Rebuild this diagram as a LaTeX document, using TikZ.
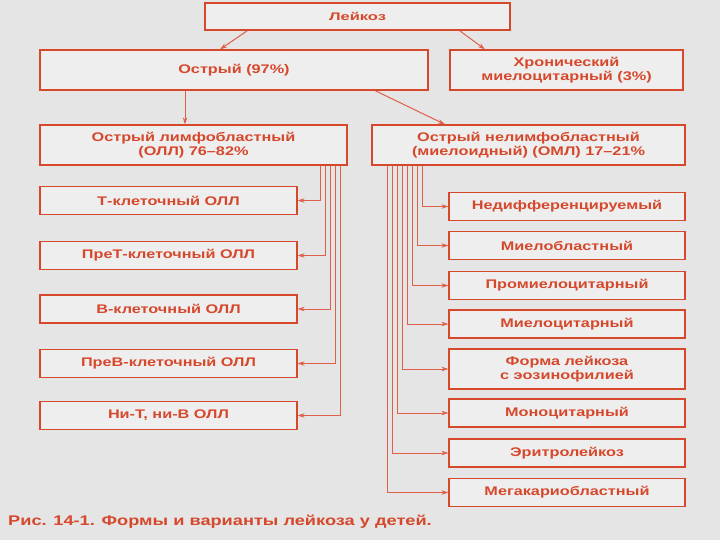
\documentclass[tikz,border=0pt]{standalone}
\usepackage{fontspec}
\setmainfont{Liberation Sans}
\newfontfamily\lkfont[Ligatures=TeX,FakeStretch=1.3]{Liberation Sans}
\newfontfamily\lkwide[Ligatures=TeX,FakeStretch=1.5]{Liberation Sans}
\usetikzlibrary{arrows.meta}

\definecolor{lkred}{RGB}{214,72,44}
\definecolor{lkline}{RGB}{222,96,72}
\definecolor{bggray}{RGB}{229,229,229}
\definecolor{boxgray}{RGB}{238,238,238}

\tikzset{
  box/.style={draw=lkred, line width=1.2pt, fill=boxgray, text=lkred,
    font=\lkfont\bfseries\fontsize{12.5}{14.5}\selectfont, align=center, inner sep=0pt},
  kid/.style={box, minimum height=28pt},
  link/.style={draw=lkline, line width=1pt, ->}
}

\begin{document}
\begin{tikzpicture}[x=1pt,y=-1pt,>={Stealth[length=7pt,width=4.5pt]}]
  \fill[bggray] (0,0) rectangle (720,540);
  \useasboundingbox (0,0) rectangle (720,540);

  % top levels
  \node[box, minimum width=305pt, minimum height=27pt,
    font=\lkwide\bfseries\fontsize{11}{13}\selectfont] (leuk) at (357.5,16.5) {Лейкоз};
  \node[box, minimum width=388pt, minimum height=40pt] (acute) at (234,70) {Острый (97\%)};
  \node[box, minimum width=233pt, minimum height=40pt] (chron) at (566.5,70) {Хронический\\миелоцитарный (3\%)};
  \node[box, minimum width=307pt, minimum height=40pt] (oll) at (193.5,145) {Острый лимфобластный\\(ОЛЛ) 76--82\%};
  \node[box, minimum width=313pt, minimum height=40pt] (oml) at (528.5,145) {Острый нелимфобластный\\(миелоидный) (ОМЛ) 17--21\%};

  % ALL variants
  \node[kid, minimum width=257pt] (tcell) at (168.5,200.5) {Т-клеточный ОЛЛ};
  \node[kid, minimum width=257pt] (pret) at (168.5,255.5) {ПреТ-клеточный ОЛЛ};
  \node[kid, minimum width=257pt] (bcell) at (168.5,309) {В-клеточный ОЛЛ};
  \node[kid, minimum width=257pt] (preb) at (168.5,363.5) {ПреВ-клеточный ОЛЛ};
  \node[kid, minimum width=257pt] (nontb) at (168.5,415.5) {Ни-Т, ни-В ОЛЛ};

  % AML variants
  \node[kid, minimum width=236pt] (undiff) at (567,206.5) {Недифференцируемый};
  \node[kid, minimum width=236pt] (myelob) at (567,245.5) {Миелобластный};
  \node[kid, minimum width=236pt] (promy) at (567,285.5) {Промиелоцитарный};
  \node[kid, minimum width=236pt] (myelo) at (567,324) {Миелоцитарный};
  \node[box, minimum width=236pt, minimum height=40pt] (eosin) at (567,369) {Форма лейкоза\\с эозинофилией};
  \node[kid, minimum width=236pt] (mono) at (567,413) {Моноцитарный};
  \node[kid, minimum width=236pt] (erythro) at (567,453) {Эритролейкоз};
  \node[kid, minimum width=236pt] (megak) at (567,492.5) {Мегакариобластный};

  \draw[link] ([xshift=-110pt]leuk.south) -- ([xshift=-14pt]acute.north);
  \draw[link] ([xshift=102pt]leuk.south) -- ([xshift=-81.5pt]chron.north);
  \draw[link] ([xshift=-49pt]acute.south) -- ([xshift=-49pt]acute.south |- oll.north);
  \draw[link] ([xshift=141pt]acute.south) -- ([xshift=-83.5pt]oml.north);

  \foreach \k [count=\i] in {tcell,pret,bcell,preb,nontb}
    \draw[link] (oll.south -| 315+5*\i,0) |- (\k.east);

  \foreach \k [count=\i] in {undiff,myelob,promy,myelo,eosin,mono,erythro,megak}
    \draw[link] (oml.south -| 427-5*\i,0) |- (\k.west);

  \node[anchor=west, inner sep=0pt, text=lkred,
    font=\lkfont\bfseries\fontsize{14}{16}\selectfont] (caption) at (8,522)
    {Рис. 14-1. Формы и варианты лейкоза у детей.};
\end{tikzpicture}
\end{document}
